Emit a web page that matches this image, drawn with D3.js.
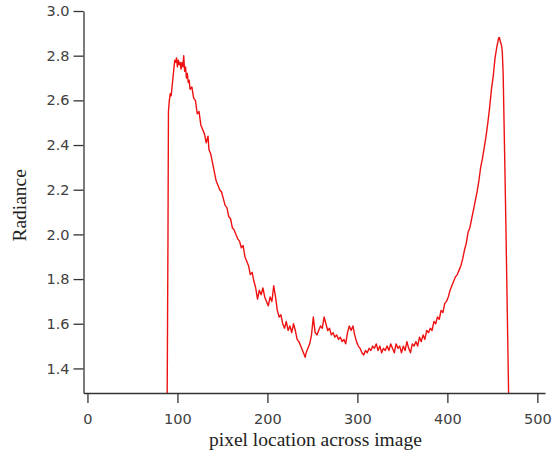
<!DOCTYPE html>
<html>
<head>
<meta charset="utf-8">
<script src="https://cdn.jsdelivr.net/npm/d3@7"></script>
<style>
  html, body { margin: 0; padding: 0; background: #fff; }
  svg { display: block; }
  .tick text { font-family: "DejaVu Sans", Verdana, sans-serif; font-size: 14.5px; fill: #404040; }
  .axis path, .axis line { stroke: #333; stroke-width: 1.3; }
  .title { font-family: "Liberation Serif", "Times New Roman", serif; font-size: 19.5px; fill: #222; }
</style>
</head>
<body>
<svg id="chart"></svg>
<script>
// Data
const pixelLocation = [
  88.5, 89.5, 90, 91, 92, 93, 94, 95, 96, 97, 98, 99, 100, 101, 102, 103, 104, 105, 106, 107,
  108, 109, 110, 111, 112, 113, 114, 116, 118, 120, 122, 124, 126, 128, 130, 132, 134, 135, 137, 139,
  141, 143, 145, 147, 149, 151, 153, 155, 157, 159, 161, 163, 165, 167, 169, 171, 173, 175, 177, 179,
  181, 183, 185, 187, 189, 191, 193, 195, 197, 199, 201, 203, 205, 207, 209, 211, 213, 215, 217, 219,
  221, 223, 225, 227, 229, 231, 233, 235, 237, 239, 241, 242, 243, 245, 247, 249, 251, 253, 255, 257,
  259, 261, 263, 265, 267, 269, 271, 273, 275, 277, 279, 281, 283, 285, 287, 289, 291, 293, 295, 297,
  299, 301, 303, 305, 307, 309, 311, 313, 315, 317, 319, 321, 323, 325, 327, 329, 331, 333, 335, 337,
  339, 341, 343, 345, 347, 349, 351, 353, 355, 357, 359, 361, 363, 365, 367, 369, 371, 373, 375, 377,
  379, 381, 383, 385, 387, 389, 391, 393, 395, 397, 399, 401, 403, 405, 407, 409, 411, 413, 415, 417,
  419, 421, 423, 425, 427, 429, 431, 433, 435, 437, 439, 441, 443, 445, 447, 449, 451, 453, 455, 456,
  457, 458, 459, 460, 461, 462, 463, 464, 465, 466, 467, 468, 469
];
const radiance = [
  1.20, 2.00, 2.55, 2.60, 2.63, 2.62, 2.66, 2.70, 2.74, 2.78, 2.77, 2.79, 2.75, 2.78, 2.76, 2.77, 2.74, 2.77, 2.75, 2.80,
  2.73, 2.75, 2.70, 2.72, 2.68, 2.69, 2.65, 2.66, 2.61, 2.60, 2.54, 2.55, 2.49, 2.47, 2.45, 2.41, 2.44, 2.38, 2.36, 2.32,
  2.28, 2.24, 2.22, 2.20, 2.19, 2.16, 2.13, 2.12, 2.08, 2.07, 2.03, 2.02, 2.00, 1.98, 1.97, 1.94, 1.95, 1.90, 1.88, 1.86,
  1.82, 1.83, 1.79, 1.76, 1.71, 1.75, 1.73, 1.76, 1.72, 1.70, 1.68, 1.72, 1.70, 1.77, 1.72, 1.66, 1.63, 1.64, 1.60, 1.58,
  1.61, 1.57, 1.59, 1.56, 1.60, 1.57, 1.53, 1.52, 1.50, 1.48, 1.46, 1.45, 1.47, 1.49, 1.51, 1.55, 1.63, 1.56, 1.55, 1.57,
  1.59, 1.58, 1.63, 1.60, 1.57, 1.58, 1.55, 1.56, 1.54, 1.55, 1.53, 1.54, 1.52, 1.53, 1.51, 1.56, 1.59, 1.57, 1.59, 1.55,
  1.52, 1.50, 1.49, 1.47, 1.46, 1.48, 1.47, 1.49, 1.48, 1.50, 1.49, 1.51, 1.48, 1.50, 1.47, 1.49, 1.48, 1.50, 1.48, 1.51,
  1.49, 1.47, 1.51, 1.49, 1.50, 1.47, 1.50, 1.48, 1.52, 1.49, 1.47, 1.51, 1.50, 1.52, 1.50, 1.54, 1.52, 1.55, 1.53, 1.57,
  1.56, 1.58, 1.57, 1.61, 1.60, 1.63, 1.62, 1.66, 1.65, 1.69, 1.70, 1.72, 1.75, 1.77, 1.79, 1.81, 1.82, 1.84, 1.86, 1.89,
  1.93, 1.96, 2.01, 2.03, 2.07, 2.11, 2.15, 2.19, 2.24, 2.30, 2.34, 2.39, 2.44, 2.50, 2.57, 2.65, 2.71, 2.79, 2.84, 2.86,
  2.88, 2.88, 2.86, 2.85, 2.82, 2.72, 2.50, 2.28, 2.05, 1.80, 1.55, 1.30, 1.10
];
const xTicks = [0, 100, 200, 300, 400, 500];
const yTicks = [1.4, 1.6, 1.8, 2.0, 2.2, 2.4, 2.6, 2.8, 3.0];
const xDomain = [-4.4, 508.5];
const yDomain = [1.29, 3.0];

const width = 560, height = 453;
const margin = { top: 11, right: 15, bottom: 60, left: 83.5 };

const svg = d3.select("#chart").attr("width", width).attr("height", height);

const x = d3.scaleLinear().domain(xDomain).range([margin.left, width - margin.right]);
const y = d3.scaleLinear().domain(yDomain).range([height - margin.bottom, margin.top]);

svg.append("defs").append("clipPath").attr("id", "plot")
  .append("rect")
  .attr("x", margin.left).attr("y", margin.top)
  .attr("width", width - margin.left - margin.right)
  .attr("height", height - margin.top - margin.bottom);

// Curve
const points = pixelLocation.map((px, i) => [px, radiance[i]]);
svg.append("path")
  .datum(points)
  .attr("clip-path", "url(#plot)")
  .attr("fill", "none")
  .attr("stroke", "#ee1111")
  .attr("stroke-width", 1.4)
  .attr("stroke-linejoin", "round")
  .attr("d", d3.line().x(d => x(d[0])).y(d => y(d[1])));

// Axes
svg.append("g")
  .attr("class", "axis")
  .attr("transform", `translate(0,${height - margin.bottom})`)
  .call(d3.axisBottom(x).tickValues(xTicks).tickSize(10).tickSizeOuter(0).tickPadding(11).tickFormat(d3.format("d")));

svg.append("g")
  .attr("class", "axis")
  .attr("transform", `translate(${margin.left},0)`)
  .call(d3.axisLeft(y).tickValues(yTicks).tickSize(10).tickSizeOuter(0).tickPadding(4).tickFormat(d3.format(".1f")));

// Titles
svg.append("text")
  .attr("class", "title")
  .attr("text-anchor", "middle")
  .attr("x", (x(0) + x(500)) / 2 + 3)
  .attr("y", 446)
  .text("pixel location across image");

svg.append("text")
  .attr("class", "title")
  .attr("text-anchor", "middle")
  .attr("transform", `translate(26,${y(2.13)}) rotate(-90)`)
  .text("Radiance");
</script>
</body>
</html>
